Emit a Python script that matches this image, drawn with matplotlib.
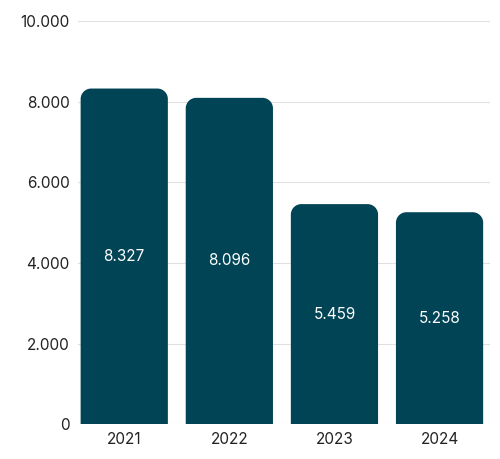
import matplotlib
matplotlib.use('Agg')
import matplotlib.pyplot as plt
from matplotlib.path import Path
from matplotlib.patches import PathPatch

plt.rcParams['font.family'] = ['Inter', 'DejaVu Sans']

years = ['2021', '2022', '2023', '2024']
values = [8327, 8096, 5459, 5258]
labels = ['8.327', '8.096', '5.459', '5.258']
yticks = [0, 2000, 4000, 6000, 8000, 10000]
ytick_labels = ['0', '2.000', '4.000', '6.000', '8.000', '10.000']

color = '#004455'
width = 0.83
rx, ry = 0.1, 260  # corner radius in data units

fig = plt.figure(figsize=(5, 4.59), dpi=100)
ax = fig.add_axes([0.156, 0.076, 0.824, 0.878])

k = 0.5523
for i, v in enumerate(values):
    x0, x1 = i - width / 2, i + width / 2
    verts = [(x0, 0), (x0, v - ry),
             (x0, v - ry + k * ry), (x0 + rx - k * rx, v), (x0 + rx, v),
             (x1 - rx, v),
             (x1 - rx + k * rx, v), (x1, v - ry + k * ry), (x1, v - ry),
             (x1, 0), (x0, 0)]
    codes = [Path.MOVETO, Path.LINETO,
             Path.CURVE4, Path.CURVE4, Path.CURVE4,
             Path.LINETO,
             Path.CURVE4, Path.CURVE4, Path.CURVE4,
             Path.LINETO, Path.CLOSEPOLY]
    ax.add_patch(PathPatch(Path(verts, codes), facecolor=color, edgecolor='none', zorder=3))
    ax.text(i, v / 2, labels[i], color='white', ha='center', va='center', fontsize=11, zorder=4)

ax.set_xlim(-0.44, 3.48)
ax.set_ylim(0, 10000)
ax.set_xticks(range(len(years)))
ax.set_xticklabels(years, fontsize=11)
ax.set_yticks(yticks)
ax.set_yticklabels(ytick_labels, fontsize=11)
ax.grid(axis='y', color='#e0e0e0', linewidth=0.8, zorder=0)
ax.tick_params(length=0, pad=6, colors='#222222')
for s in ax.spines.values():
    s.set_visible(False)

fig.savefig('out.png')
